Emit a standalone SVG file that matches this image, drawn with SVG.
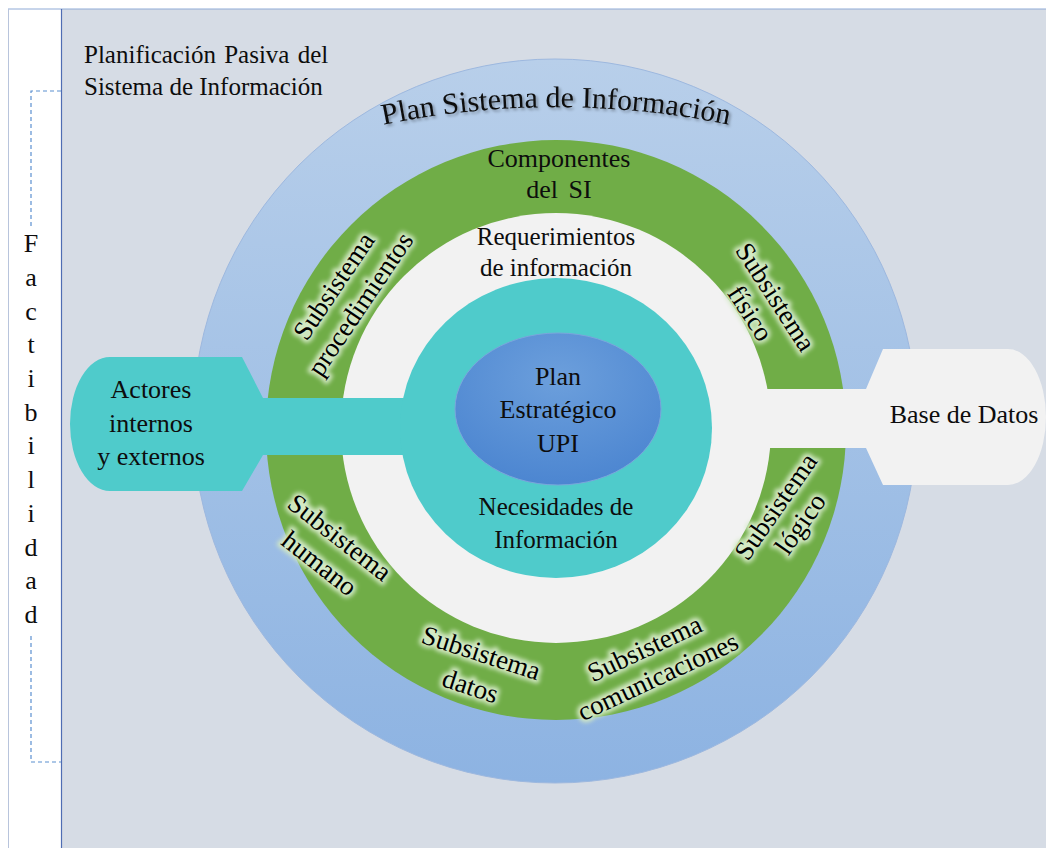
<svg xmlns="http://www.w3.org/2000/svg" width="1046" height="848" viewBox="0 0 1046 848">
<defs>
<style>
.t{font-family:"Liberation Serif","Times New Roman",serif;fill:#0d0d0d;}
.s25{font-size:25px;}
.s26{font-size:26px;}
.sub{font-family:"Liberation Serif","Times New Roman",serif;font-size:27px;fill:#000000;text-anchor:middle;}
.halo{fill:#d3e9c4;stroke:#d3e9c4;stroke-width:6;stroke-linejoin:round;}
.dash{stroke:#5b8fd0;stroke-width:1.2;stroke-dasharray:4 3;fill:none;}
</style>
<linearGradient id="gBlue" x1="0" y1="0" x2="0" y2="1">
<stop offset="0" stop-color="#b8cfea"/>
<stop offset="1" stop-color="#8db3e2"/>
</linearGradient>
<radialGradient id="gCore" cx="0.5" cy="0.3" r="0.75">
<stop offset="0" stop-color="#6c9fdc"/>
<stop offset="1" stop-color="#4a84d0"/>
</radialGradient>
<filter id="soft" x="-30%" y="-60%" width="160%" height="220%">
<feGaussianBlur stdDeviation="2.2"/>
</filter>
<filter id="shadow" x="-10%" y="-30%" width="120%" height="160%">
<feGaussianBlur in="SourceAlpha" stdDeviation="1.5" result="b"/>
<feOffset in="b" dx="1.5" dy="2" result="o"/>
<feComponentTransfer in="o" result="s"><feFuncA type="linear" slope="0.35"/></feComponentTransfer>
<feMerge><feMergeNode in="s"/><feMergeNode in="SourceGraphic"/></feMerge>
</filter>
<path id="arcTitle" d="M 368,128 A 860 860 0 0 1 744,128"/>
</defs>

<g id="frame">
<rect x="0" y="0" width="1046" height="848" fill="#ffffff"/>
<rect x="61" y="9" width="985" height="839" fill="#d6dce5"/>
<line x1="8" y1="9" x2="1046" y2="9" stroke="#8faad6" stroke-width="1"/>
<line x1="8.5" y1="9" x2="8.5" y2="848" stroke="#b8c4dc" stroke-width="1"/>
<line x1="61.5" y1="9" x2="61.5" y2="848" stroke="#4f6db3" stroke-width="1.2"/>
</g>

<g id="title-planificacion">
<text class="t s25" x="84" y="63" word-spacing="2">Planificación Pasiva del</text>
<text class="t s25" x="84" y="95">Sistema de Información</text>
</g>

<g id="factibilidad">
<path class="dash" d="M 61,91 H 31 V 226"/>
<path class="dash" d="M 31,636 V 762 H 61"/>
<g class="t s26" text-anchor="middle">
<text x="31" y="252">F</text>
<text x="31" y="286">a</text>
<text x="31" y="320">c</text>
<text x="31" y="353">t</text>
<text x="31" y="387">i</text>
<text x="31" y="421">b</text>
<text x="31" y="454">i</text>
<text x="31" y="488">l</text>
<text x="31" y="522">i</text>
<text x="31" y="556">d</text>
<text x="31" y="589">a</text>
<text x="31" y="623">d</text>
</g>
</g>

<g id="plan-sistema-informacion">
<circle cx="555" cy="421" r="362" fill="url(#gBlue)" stroke="#9db8df" stroke-width="1"/>
<text class="t" font-size="30" filter="url(#shadow)"><textPath href="#arcTitle" startOffset="50%" text-anchor="middle">Plan Sistema de Información</textPath></text>
</g>

<g id="componentes-si">
<circle cx="556" cy="430" r="290" fill="#70ad47"/>
<text class="t s26" x="559" y="167" text-anchor="middle">Componentes</text>
<text class="t s26" x="559" y="198" text-anchor="middle" word-spacing="4">del SI</text>
</g>

<g id="requerimientos">
<circle cx="556" cy="428" r="215" fill="#f2f2f2"/>
<text class="t s25" x="556" y="245" text-anchor="middle">Requerimientos</text>
<text class="t s25" x="556" y="276" text-anchor="middle">de información</text>
</g>

<g id="actores">
<path d="M 110,357 L 242,357 L 263,398 L 440,398 L 440,455 L 263,455 L 242,491 L 110,491 A 40 67 0 0 1 110,357 Z" fill="#4fcbcb"/>
<text class="t s26" x="151" y="398" text-anchor="middle">Actores</text>
<text class="t s26" x="151" y="432" text-anchor="middle">internos</text>
<text class="t s26" x="151" y="465" text-anchor="middle">y externos</text>
</g>

<g id="base-datos">
<path d="M 1008,349 L 883,349 L 866,389 L 690,389 L 690,448 L 866,448 L 883,485 L 1008,485 A 38 68 0 0 0 1008,349 Z" fill="#f2f2f2"/>
<text class="t s26" x="964" y="423" text-anchor="middle">Base de Datos</text>
</g>

<g id="necesidades">
<ellipse cx="556" cy="428" rx="156" ry="150" fill="#4fcbcb"/>
<text class="t s25" x="556" y="515" text-anchor="middle">Necesidades de</text>
<text class="t s25" x="556" y="548" text-anchor="middle">Información</text>
</g>

<g id="plan-estrategico">
<ellipse cx="558" cy="409" rx="103" ry="76" fill="url(#gCore)" stroke="#7aa6dc" stroke-width="1"/>
<text class="t s26" x="558" y="385" text-anchor="middle">Plan</text>
<text class="t s26" x="558" y="418" text-anchor="middle">Estratégico</text>
<text class="t s26" x="558" y="452" text-anchor="middle">UPI</text>
</g>

<g id="sub-procedimientos" transform="translate(347,295) rotate(-56)">
<g filter="url(#soft)"><text class="sub halo" x="0" y="-7">Subsistema</text><text class="sub halo" x="0" y="25">procedimientos</text></g>
<text class="sub" x="0" y="-7">Subsistema</text>
<text class="sub" x="0" y="25">procedimientos</text>
</g>
<g id="sub-fisico" transform="translate(763,305) rotate(57)">
<g filter="url(#soft)"><text class="sub halo" x="0" y="-6">Subsistema</text><text class="sub halo" x="0" y="24">físico</text></g>
<text class="sub" x="0" y="-6">Subsistema</text>
<text class="sub" x="0" y="24">físico</text>
</g>
<g id="sub-humano" transform="translate(330,550) rotate(38)">
<g filter="url(#soft)"><text class="sub halo" x="0" y="-7">Subsistema</text><text class="sub halo" x="0" y="26">humano</text></g>
<text class="sub" x="0" y="-7">Subsistema</text>
<text class="sub" x="0" y="26">humano</text>
</g>
<g id="sub-datos" transform="translate(476,669) rotate(18)">
<g filter="url(#soft)"><text class="sub halo" x="0" y="-8">Subsistema</text><text class="sub halo" x="0" y="27">datos</text></g>
<text class="sub" x="0" y="-8">Subsistema</text>
<text class="sub" x="0" y="27">datos</text>
</g>
<g id="sub-comunicaciones" transform="translate(651,662) rotate(-25)">
<g filter="url(#soft)"><text class="sub halo" x="0" y="-6">Subsistema</text><text class="sub halo" x="0" y="25">comunicaciones</text></g>
<text class="sub" x="0" y="-6">Subsistema</text>
<text class="sub" x="0" y="25">comunicaciones</text>
</g>
<g id="sub-logico" transform="translate(788,515) rotate(-55)">
<g filter="url(#soft)"><text class="sub halo" x="0" y="-6">Subsistema</text><text class="sub halo" x="0" y="24">lógico</text></g>
<text class="sub" x="0" y="-6">Subsistema</text>
<text class="sub" x="0" y="24">lógico</text>
</g>

<g id="connectors"></g>
</svg>
